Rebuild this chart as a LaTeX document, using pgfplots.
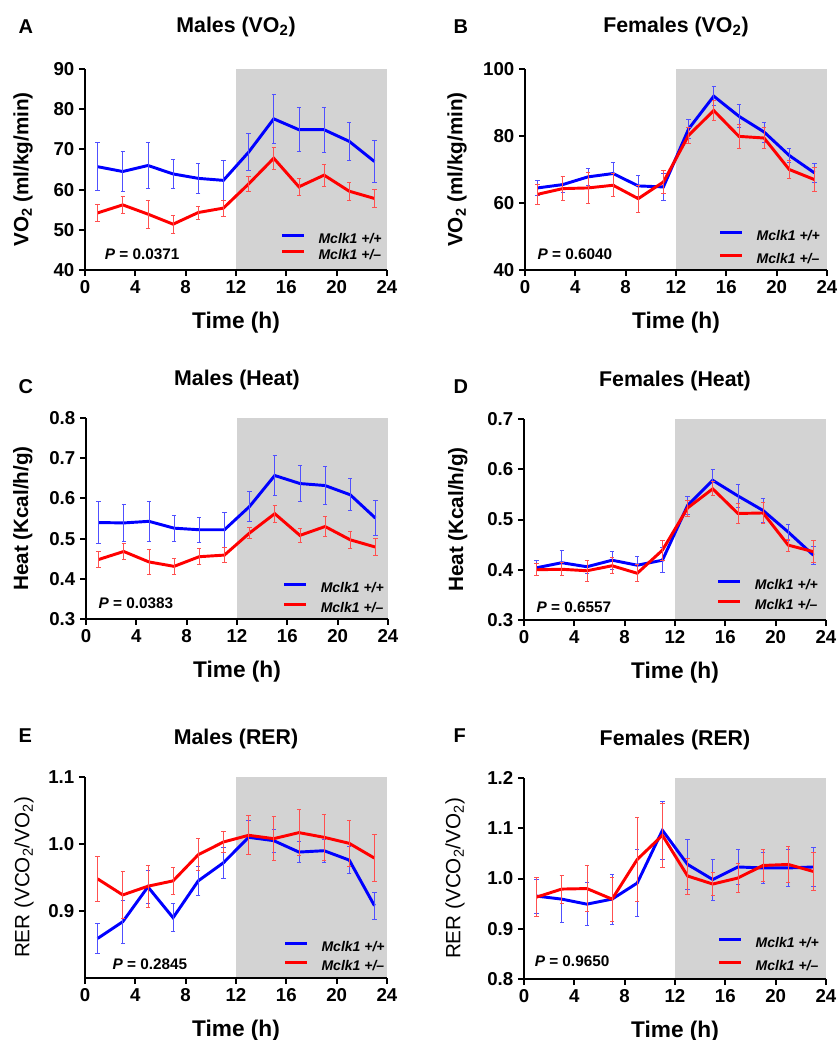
\documentclass[border=0pt]{standalone}
\usepackage{fontspec}
\setmainfont{Liberation Sans}
\usepackage{pgfplots}
\usepackage{pgfplotstable}
\pgfplotsset{compat=1.18}

\definecolor{bggray}{RGB}{211,211,211}
\definecolor{ebblue}{RGB}{80,80,255}
\definecolor{ebred}{RGB}{255,80,80}
\newcommand{\fs}[1]{\fontsize{#1}{#1}\selectfont}

% columns: time, +/+ mean and sem, +/- mean and sem
\pgfplotstableread{
t  b     be   r     re
1  65.7  6.0  54.2  2.2
3  64.5  5.0  56.2  2.0
5  66.0  5.7  53.9  3.5
7  63.9  3.7  51.4  2.2
9  62.8  3.7  54.3  1.6
11 62.3  5.0  55.4  2.0
13 69.3  4.6  61.4  1.9
15 77.6  6.0  67.8  2.8
17 74.9  5.5  60.7  2.1
19 74.9  5.6  63.6  2.7
21 72.0  4.7  59.6  2.2
23 67.0  5.2  57.8  2.3
}\vomale
\pgfplotstableread{
t  b     be   r     re
1  64.5  2.2  62.6  3.0
3  65.5  2.3  64.3  3.6
5  67.8  2.6  64.5  4.7
7  68.8  3.2  65.3  3.4
9  65.1  3.0  61.3  4.0
11 64.8  3.9  66.3  3.3
13 82.1  2.9  80.2  2.5
15 91.9  2.9  87.6  3.0
17 85.9  3.4  79.9  3.6
19 81.2  3.0  79.4  3.2
21 74.2  2.0  70.0  2.6
23 69.0  2.8  67.0  3.5
}\vofemale
\pgfplotstableread{
t  b      be     r      re
1  0.540  0.052  0.448  0.020
3  0.539  0.047  0.468  0.020
5  0.543  0.050  0.442  0.032
7  0.526  0.032  0.431  0.019
9  0.522  0.032  0.455  0.020
11 0.522  0.044  0.459  0.019
13 0.580  0.038  0.514  0.014
15 0.657  0.049  0.562  0.021
17 0.637  0.045  0.508  0.018
19 0.632  0.047  0.530  0.025
21 0.609  0.040  0.497  0.022
23 0.551  0.044  0.479  0.021
}\heatmale
\pgfplotstableread{
t  b      be     r      re
1  0.404  0.015  0.400  0.012
3  0.414  0.025  0.401  0.013
5  0.406  0.013  0.398  0.021
7  0.419  0.018  0.408  0.016
9  0.409  0.017  0.393  0.017
11 0.419  0.025  0.439  0.020
13 0.528  0.018  0.523  0.016
15 0.578  0.021  0.561  0.014
17 0.547  0.022  0.512  0.020
19 0.518  0.024  0.513  0.021
21 0.475  0.016  0.449  0.012
23 0.429  0.018  0.436  0.022
}\heatfemale
\pgfplotstableread{
t  b      be     r      re
1  0.859  0.023  0.948  0.033
3  0.884  0.032  0.924  0.035
5  0.936  0.025  0.937  0.031
7  0.890  0.021  0.945  0.020
9  0.945  0.022  0.984  0.024
11 0.972  0.023  1.003  0.016
13 1.010  0.025  1.013  0.029
15 1.005  0.017  1.008  0.033
17 0.988  0.016  1.017  0.034
19 0.990  0.017  1.010  0.034
21 0.976  0.020  1.001  0.034
23 0.908  0.020  0.979  0.035
}\rermale
\pgfplotstableread{
t  b      be     r      re
1  0.965  0.034  0.963  0.039
3  0.959  0.047  0.979  0.028
5  0.949  0.043  0.980  0.046
7  0.959  0.050  0.959  0.044
9  0.991  0.067  1.038  0.083
11 1.096  0.057  1.086  0.064
13 1.028  0.050  1.005  0.036
15 0.998  0.041  0.989  0.023
17 1.023  0.035  1.001  0.029
19 1.021  0.030  1.026  0.031
21 1.021  0.037  1.028  0.036
23 1.023  0.038  1.014  0.037
}\rerfemale

\tikzset{ptext/.style={anchor=base west, font=\bfseries\fs{11.5}}}

\pgfplotsset{
  panel/.style={
    scale only axis, width=226.5pt, height=150.75pt,
    anchor=south west,
    axis lines=left, axis line style={-, line width=1.5pt},
    axis on top, no markers,
    xmin=0, xmax=24, xtick={0,4,...,24},
    tick align=outside, major tick length=4.5pt,
    tick style={line width=1.5pt, black},
    /pgf/number format/assume math mode=true,
    ticklabel style={font=\bfseries\fs{14}},
    xlabel={Time (h)},
    xlabel style={at={(axis description cs:0.5,-0.29)}, anchor=base, font=\bfseries\fs{17}},
    ylabel style={anchor=center, font=\bfseries\fs{15.5}},
    every axis title shift=0pt,
    title style={anchor=base, font=\bfseries\fs{16}},
    legend style={draw=none, fill=none, anchor=south east, inner sep=0pt,
      font=\bfseries\itshape\fs{10.5},
      nodes={inner sep=0pt, text height=8pt, text depth=2pt},
      cells={anchor=west}, column sep=9.75pt},
    legend image code/.code={\draw[#1, line width=2.2pt] (0pt,3pt) -- (16.5pt,3pt);},
  },
  rows1/.style={yticklabel style={/pgf/number format/.cd, fixed, fixed zerofill, precision=1}},
  wt/.style={blue, line width=2.2pt, error bars/.cd, y dir=both, y explicit,
    error bar style={ebblue, line width=0.6pt},
    error mark options={ebblue, rotate=90, mark size=1.6pt, line width=0.6pt}},
  het/.style={red, line width=2.2pt, error bars/.cd, y dir=both, y explicit,
    error bar style={ebred, line width=0.6pt},
    error mark options={ebred, rotate=90, mark size=1.6pt, line width=0.6pt}},
}

\begin{document}
\begin{tikzpicture}
\path[use as bounding box] (0pt,0pt) rectangle (628.5pt,-780pt);
\node[anchor=base west, font=\bfseries\fs{15}] at (10.5pt,-24.75pt) {A};
\node[anchor=base west, font=\bfseries\fs{15}] at (336.75pt,-24.75pt) {B};
\node[anchor=base west, font=\bfseries\fs{15}] at (10.5pt,-294.75pt) {C};
\node[anchor=base west, font=\bfseries\fs{15}] at (336.75pt,-294.75pt) {D};
\node[anchor=base west, font=\bfseries\fs{15}] at (10.5pt,-556.5pt) {E};
\node[anchor=base west, font=\bfseries\fs{15}] at (336.75pt,-556.5pt) {F};

% A
\begin{axis}[panel, at={(63.75pt,-202.5pt)},
  ymin=40, ymax=90, ytick={40,50,...,90},
  title={Males (VO\textsubscript{2})}, title style={at={(axis description cs:0.5,1.184)}},
  ylabel={VO\textsubscript{2} (ml/kg/min)}, ylabel style={at={(axis description cs:-0.205,0.5)}},
  legend style={at={(rel axis cs:0.983,0.036)}, row sep=2pt}]
\fill[bggray] (rel axis cs:0.5,0) rectangle (rel axis cs:1,1);
\addplot[wt] table[x=t, y=b, y error=be] {\vomale};
\addlegendentry{Mclk1 +/+}
\addplot[het] table[x=t, y=r, y error=re] {\vomale};
\addlegendentry{Mclk1 +/--}
\node[ptext] at (rel axis cs:0.05,0.05) {\textit{P} = 0.0371};
\end{axis}

% B
\begin{axis}[panel, at={(393.75pt,-202.5pt)},
  ymin=40, ymax=100, ytick={40,60,80,100},
  title={Females (VO\textsubscript{2})}, title style={at={(axis description cs:0.5,1.184)}},
  ylabel={VO\textsubscript{2} (ml/kg/min)}, ylabel style={at={(axis description cs:-0.225,0.5)}},
  legend style={at={(rel axis cs:0.977,0.017)}, row sep=7.25pt}]
\fill[bggray] (rel axis cs:0.5,0) rectangle (rel axis cs:1,1);
\addplot[wt] table[x=t, y=b, y error=be] {\vofemale};
\addlegendentry{Mclk1 +/+}
\addplot[het] table[x=t, y=r, y error=re] {\vofemale};
\addlegendentry{Mclk1 +/--}
\node[ptext] at (rel axis cs:0.026,0.05) {\textit{P} = 0.6040};
\end{axis}

% C
\begin{axis}[panel, rows1, at={(64.5pt,-464.25pt)},
  ymin=0.3, ymax=0.8, ytick={0.3,0.4,...,0.8},
  title={Males (Heat)}, title style={at={(axis description cs:0.5,1.164)}},
  ylabel={Heat (Kcal/h/g)}, ylabel style={at={(axis description cs:-0.209,0.5)}},
  legend style={at={(rel axis cs:0.987,0.017)}, row sep=5pt}]
\fill[bggray] (rel axis cs:0.5,0) rectangle (rel axis cs:1,1);
\addplot[wt] table[x=t, y=b, y error=be] {\heatmale};
\addlegendentry{Mclk1 +/+}
\addplot[het] table[x=t, y=r, y error=re] {\heatmale};
\addlegendentry{Mclk1 +/--}
\node[ptext] at (rel axis cs:0.026,0.05) {\textit{P} = 0.0383};
\end{axis}

% D
\begin{axis}[panel, rows1, at={(393pt,-465pt)},
  ymin=0.3, ymax=0.7, ytick={0.3,0.4,...,0.7},
  title={Females (Heat)}, title style={at={(axis description cs:0.5,1.164)}},
  ylabel={Heat (Kcal/h/g)}, ylabel style={at={(axis description cs:-0.219,0.5)}},
  legend style={at={(rel axis cs:0.974,0.036)}, row sep=5pt}]
\fill[bggray] (rel axis cs:0.5,0) rectangle (rel axis cs:1,1);
\addplot[wt] table[x=t, y=b, y error=be] {\heatfemale};
\addlegendentry{Mclk1 +/+}
\addplot[het] table[x=t, y=r, y error=re] {\heatfemale};
\addlegendentry{Mclk1 +/--}
\node[ptext] at (rel axis cs:0.026,0.035) {\textit{P} = 0.6557};
\end{axis}

% E
\begin{axis}[panel, rows1, at={(63.75pt,-733.5pt)},
  ymin=0.8, ymax=1.1, ytick={0.9,1.0,1.1},
  title={Males (RER)}, title style={at={(axis description cs:0.5,1.164)}},
  ylabel={RER (VCO\textsubscript{2}/VO\textsubscript{2})},
  ylabel style={at={(axis description cs:-0.202,0.5)}, font=\fs{15.5}},
  legend style={at={(rel axis cs:0.993,0.022)}, row sep=4.25pt}]
\fill[bggray] (rel axis cs:0.5,0) rectangle (rel axis cs:1,1);
\addplot[wt] table[x=t, y=b, y error=be] {\rermale};
\addlegendentry{Mclk1 +/+}
\addplot[het] table[x=t, y=r, y error=re] {\rermale};
\addlegendentry{Mclk1 +/--}
\node[ptext] at (rel axis cs:0.076,0.04) {\textit{P} = 0.2845};
\end{axis}

% F
\begin{axis}[panel, rows1, at={(393pt,-734.25pt)},
  ymin=0.8, ymax=1.2, ytick={0.8,0.9,...,1.2},
  title={Females (RER)}, title style={at={(axis description cs:0.5,1.164)}},
  ylabel={RER (VCO\textsubscript{2}/VO\textsubscript{2})},
  ylabel style={at={(axis description cs:-0.228,0.5)}, font=\fs{15.5}},
  legend style={at={(rel axis cs:0.977,0.027)}, row sep=7.25pt}]
\fill[bggray] (rel axis cs:0.5,0) rectangle (rel axis cs:1,1);
\addplot[wt] table[x=t, y=b, y error=be] {\rerfemale};
\addlegendentry{Mclk1 +/+}
\addplot[het] table[x=t, y=r, y error=re] {\rerfemale};
\addlegendentry{Mclk1 +/--}
\node[ptext] at (rel axis cs:0.02,0.06) {\textit{P} = 0.9650};
\end{axis}
\end{tikzpicture}
\end{document}
